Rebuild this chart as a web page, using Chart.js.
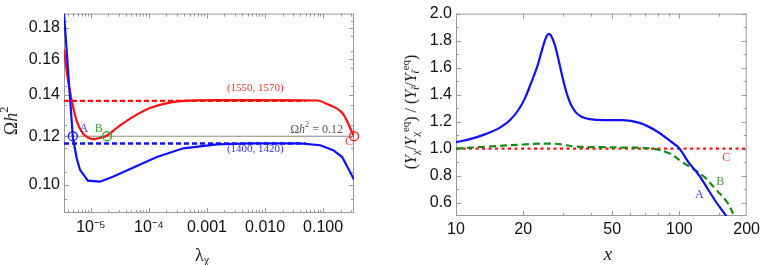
<!DOCTYPE html>
<html>
<head>
<meta charset="utf-8">
<script src="https://cdn.jsdelivr.net/npm/chart.js@4.4.0/dist/chart.umd.min.js"></script>
<style>
body { margin: 0; background: #fff; }
#wrap { position: relative; width: 764px; height: 265px; }
.box { position: absolute; top: 0; width: 382px; height: 265px; }
</style>
</head>
<body>
<div id="wrap">
  <div class="box" style="left:0"><canvas id="chartOmega"></canvas></div>
  <div class="box" style="left:382px"><canvas id="chartRatio"></canvas></div>
</div>
<script>
// ---------- left panel: relic density vs lambda ----------
const lamMin = 3.45e-6, lamMax = 0.34;
const lamRed   = [3.45e-6, 4.0e-6, 4.7e-6, 5.7e-6, 7.3e-6, 8.8e-6, 1.1e-5, 1.4e-5, 1.9e-5, 2.7e-5, 4.2e-5, 6.5e-5, 1.04e-4, 1.8e-4, 3.9e-4, 1.5e-3, 8.2e-3, 0.079, 0.117, 0.22, 0.34];
const omegaRed = [0.166, 0.149, 0.137, 0.127, 0.1213, 0.1195, 0.1187, 0.1192, 0.1203, 0.1235, 0.1272, 0.1305, 0.1334, 0.1355, 0.1370, 0.1374, 0.1374, 0.1372, 0.1354, 0.1305, 0.120];
const lamBlue   = [3.45e-6, 4.9e-6, 5.7e-6, 6.5e-6, 8.9e-6, 1.43e-5, 2.4e-5, 5.3e-5, 1.37e-4, 3.9e-4, 1.5e-3, 5.5e-3, 0.040, 0.089, 0.149, 0.213, 0.34];
const omegaBlue = [0.19, 0.1195, 0.1105, 0.1058, 0.1016, 0.1012, 0.1031, 0.1066, 0.111, 0.1147, 0.1164, 0.1168, 0.1168, 0.116, 0.1139, 0.111, 0.102];
const omegaTarget = 0.12;
const redLevel = 0.137, blueLevel = 0.1168, levelEnd = 0.05;
// benchmark points A, B, C
const markLam   = [4.9e-6, 1.9e-5, 0.34];
const markColor = ['#2020ff', '#3aa03a', '#ff2020'];
const lamTicks = [1e-5, 1e-4, 1e-3, 1e-2, 1e-1];
const lamTickLabels = ['10⁻⁵', '10⁻⁴', '0.001', '0.010', '0.100'];
const omegaTicks = [0.10, 0.12, 0.14, 0.16, 0.18];

// ---------- right panel: yield ratio vs x ----------
const xBlue = [10, 11.55, 13.47, 15.72, 17.42, 18.92, 20.32, 21.84, 23.23, 24.45, 25.48, 26.0, 26.55, 27.67, 28.84, 30.05, 31.3, 32.6, 34.3, 36.5, 39.6, 46.2, 55.7, 66.3, 78.9, 90.2, 100, 109.7, 122.8, 134, 146.4, 162, 176];
const rBlue = [1.047, 1.07, 1.105, 1.155, 1.21, 1.28, 1.37, 1.50, 1.62, 1.75, 1.835, 1.85, 1.84, 1.77, 1.65, 1.52, 1.41, 1.33, 1.27, 1.235, 1.218, 1.21, 1.21, 1.19, 1.13, 1.06, 1.0, 0.9, 0.8, 0.7, 0.6, 0.5, 0.4];
const xGreen = [10, 14, 20, 25.5, 30, 34, 45, 56, 75, 90, 103, 127, 145, 164, 176, 190];
const rGreen = [1.0, 1.015, 1.03, 1.037, 1.03, 1.015, 1.01, 1.007, 1.0, 0.965, 0.9, 0.8, 0.7, 0.6, 0.5, 0.4];
const rRed = 1.0;
const xTicks = [10, 20, 50, 100, 200];
const xMinorTicks = [30, 40, 60, 70, 80, 90, 150];
const ratioTicks = [0.6, 0.8, 1.0, 1.2, 1.4, 1.6, 1.8, 2.0];
const ratioMinor = [0.7, 0.9, 1.1, 1.3, 1.5, 1.7, 1.9];

const pts = (xs, ys) => xs.map((v, i) => ({ x: v, y: ys[i] }));
const range = (a, b, s) => { const out = []; for (let v = a; v <= b + 1e-9; v += s) out.push(+v.toFixed(4)); return out; };

// draw text made of pieces (sub/superscripts), centred at (x, y)
function drawRich(ctx, parts, x, y, size, rot) {
  ctx.save();
  ctx.translate(x, y);
  if (rot) ctx.rotate(rot);
  ctx.textBaseline = 'middle';
  ctx.textAlign = 'left';
  const fontOf = p => (p.i ? 'italic ' : '') + (p.sub || p.sup ? size * 0.68 : size) + 'px "Liberation Serif", serif';
  let w = 0;
  parts.forEach(p => { ctx.font = fontOf(p); w += ctx.measureText(p.t).width; });
  let cx = -w / 2;
  parts.forEach(p => {
    ctx.font = fontOf(p);
    ctx.fillStyle = p.c || '#222';
    const dy = p.sub ? size * 0.28 : p.sup ? -size * 0.38 : 0;
    ctx.fillText(p.t, cx, dy);
    cx += ctx.measureText(p.t).width;
  });
  ctx.restore();
}

const frameTicks = {
  id: 'frameTicks',
  beforeDatasetsDraw(chart, args, o) {
    const { ctx, chartArea: a, scales: { x, y } } = chart;
    ctx.save();
    ctx.strokeStyle = '#999';
    ctx.lineWidth = 1;
    ctx.strokeRect(a.left + 0.5, a.top + 0.5, a.width - 1, a.height - 1);
    const tick = (vals, len, horiz) => vals.forEach(v => {
      ctx.beginPath();
      if (horiz) {
        const p = Math.round(x.getPixelForValue(v)) + 0.5;
        if (p < a.left || p > a.right) return;
        ctx.moveTo(p, a.bottom); ctx.lineTo(p, a.bottom - len);
        ctx.moveTo(p, a.top); ctx.lineTo(p, a.top + len);
      } else {
        const p = Math.round(y.getPixelForValue(v)) + 0.5;
        if (p < a.top || p > a.bottom) return;
        ctx.moveTo(a.left, p); ctx.lineTo(a.left + len, p);
        ctx.moveTo(a.right, p); ctx.lineTo(a.right - len, p);
      }
      ctx.stroke();
    });
    tick(o.xMajor, 5, true); tick(o.xMinor, 3, true);
    tick(o.yMajor, 5, false); tick(o.yMinor, 3, false);
    ctx.restore();
  },
  afterDatasetsDraw(chart, args, o) {
    const { ctx, scales: { x, y } } = chart;
    (o.notes || []).forEach(n => {
      drawRich(ctx, n.parts, x.getPixelForValue(n.x), y.getPixelForValue(n.y), n.size || 11, 0);
    });
    (o.titles || []).forEach(t => drawRich(ctx, t.parts, t.x, t.y, t.size, t.rot));
  }
};
Chart.register(frameTicks);

const logMinor = (lo, hi) => {
  const out = [];
  for (let e = Math.floor(Math.log10(lo)); e <= Math.ceil(Math.log10(hi)); e++)
    for (let m = 2; m <= 9; m++) out.push(m * Math.pow(10, e));
  return out;
};

const tickFont = { family: '"Liberation Sans", Arial, sans-serif', size: 16 };

// Left chart
new Chart(document.getElementById('chartOmega'), {
  type: 'line',
  data: {
    datasets: [
      ...markLam.map((l, i) => ({
        data: [{ x: l, y: omegaTarget }], showLine: false, clip: false,
        pointStyle: 'circle', pointRadius: 4.5, borderColor: markColor[i], borderWidth: 1.3, backgroundColor: 'rgba(0,0,0,0)'
      })),
      { data: pts(lamBlue, omegaBlue), borderColor: '#1010ff', borderWidth: 2.2, pointRadius: 0, tension: 0 },
      { data: pts(lamRed, omegaRed), borderColor: '#ff1010', borderWidth: 2.2, pointRadius: 0, cubicInterpolationMode: 'monotone' },
      { data: pts([lamMin, levelEnd], [redLevel, redLevel]), borderColor: '#ff1010', borderWidth: 2.4, borderDash: [5, 3], pointRadius: 0 },
      { data: pts([lamMin, levelEnd], [blueLevel, blueLevel]), borderColor: '#1010ff', borderWidth: 2.4, borderDash: [5, 3], pointRadius: 0 },
      { data: pts([lamMin, lamMax], [omegaTarget, omegaTarget]), borderColor: '#888', borderWidth: 1, pointRadius: 0 }
    ]
  },
  options: {
    responsive: true, maintainAspectRatio: false, animation: false,
    layout: { padding: { left: 0, right: 28, top: 11, bottom: 0 } },
    scales: {
      x: {
        type: 'logarithmic', min: lamMin, max: lamMax,
        grid: { display: false, drawTicks: false }, border: { display: false },
        afterBuildTicks: s => { s.ticks = lamTicks.map(v => ({ value: v })); },
        afterFit: s => { s.height = 52; },
        ticks: { font: tickFont, color: '#111', padding: 5, maxRotation: 0, autoSkip: false, callback: (v, i) => lamTickLabels[i] }
      },
      y: {
        type: 'logarithmic', min: 0.09, max: 0.19,
        grid: { display: false, drawTicks: false }, border: { display: false },
        afterBuildTicks: s => { s.ticks = omegaTicks.map(v => ({ value: v })); },
        afterFit: s => { s.width = 64; },
        ticks: { font: tickFont, color: '#111', padding: 4, autoSkip: false, callback: v => v.toFixed(2) }
      }
    },
    plugins: {
      legend: { display: false }, tooltip: { enabled: false },
      frameTicks: {
        xMajor: lamTicks, xMinor: logMinor(lamMin, lamMax),
        yMajor: omegaTicks, yMinor: range(0.095, 0.185, 0.01),
        notes: [
          { x: 6.8e-3, y: 0.1436, parts: [{ t: '(1550, 1570)', c: '#ff3030' }] },
          { x: 6.8e-3, y: 0.1143, parts: [{ t: '(1400, 1420)', c: '#3030ff' }] },
          { x: 0.077, y: 0.1230, size: 12, parts: [{ t: 'Ω', c: '#555' }, { t: 'h', i: true, c: '#555' }, { t: '2', sup: true, c: '#555' }, { t: ' = 0.12', c: '#555' }] },
          { x: 7.6e-6, y: 0.1232, size: 12, parts: [{ t: 'A', c: '#3a3aff' }] },
          { x: 1.37e-5, y: 0.1234, size: 12, parts: [{ t: 'B', c: '#3aa03a' }] },
          { x: 0.28, y: 0.1173, size: 12, parts: [{ t: 'C', c: '#ff4040' }] }
        ],
        titles: [
          { x: 12, y: 121, size: 18, rot: -Math.PI / 2, parts: [{ t: 'Ω' }, { t: 'h', i: true }, { t: '2', sup: true }] },
          { x: 202, y: 256, size: 18, rot: 0, parts: [{ t: 'λ' }, { t: 'χ', sub: true }] }
        ]
      }
    }
  }
});

// Right chart
new Chart(document.getElementById('chartRatio'), {
  type: 'line',
  data: {
    datasets: [
      { data: pts(xBlue, rBlue), borderColor: '#1010ff', borderWidth: 2.2, pointRadius: 0, cubicInterpolationMode: 'monotone' },
      { data: pts(xGreen, rGreen), borderColor: '#148c14', borderWidth: 2.2, borderDash: [7, 4], pointRadius: 0, tension: 0.4 },
      { data: pts([10, 200], [rRed, rRed]), borderColor: '#ff1010', borderWidth: 2.2, borderDash: [3, 3.5], pointRadius: 0 }
    ]
  },
  options: {
    responsive: true, maintainAspectRatio: false, animation: false,
    layout: { padding: { left: 0, right: 17, top: 12, bottom: 0 } },
    scales: {
      x: {
        type: 'logarithmic', min: 10, max: 200,
        grid: { display: false, drawTicks: false }, border: { display: false },
        afterBuildTicks: s => { s.ticks = xTicks.map(v => ({ value: v })); },
        afterFit: s => { s.height = 49; },
        ticks: { font: tickFont, color: '#111', padding: 4, maxRotation: 0, autoSkip: false, callback: (v, i) => String(xTicks[i]) }
      },
      y: {
        type: 'linear', min: 0.5, max: 2.0,
        grid: { display: false, drawTicks: false }, border: { display: false },
        afterBuildTicks: s => { s.ticks = ratioTicks.map(v => ({ value: v })); },
        afterFit: s => { s.width = 74; },
        ticks: { font: tickFont, color: '#111', padding: 4, autoSkip: false, callback: v => v.toFixed(1) }
      }
    },
    plugins: {
      legend: { display: false }, tooltip: { enabled: false },
      frameTicks: {
        xMajor: xTicks, xMinor: xMinorTicks,
        yMajor: ratioTicks, yMinor: ratioMinor,
        notes: [
          { x: 122.8, y: 0.655, size: 12, parts: [{ t: 'A', c: '#3a3aff' }] },
          { x: 152.4, y: 0.75, size: 12, parts: [{ t: 'B', c: '#3aa03a' }] },
          { x: 162, y: 0.934, size: 12, parts: [{ t: 'C', c: '#ff4040' }] }
        ],
        titles: [
          { x: 30, y: 112, size: 16, rot: -Math.PI / 2, parts: [
            { t: '(' }, { t: 'Y', i: true }, { t: 'χ', sub: true }, { t: '/' }, { t: 'Y', i: true }, { t: 'χ', sub: true }, { t: 'eq', sup: true }, { t: ') / (' },
            { t: 'Y', i: true }, { t: 't̃', sub: true, i: true }, { t: '/' }, { t: 'Y', i: true }, { t: 't̃', sub: true, i: true }, { t: 'eq', sup: true }, { t: ')' }
          ] },
          { x: 226, y: 255, size: 19, rot: 0, parts: [{ t: 'x', i: true }] }
        ]
      }
    }
  }
});
</script>
</body>
</html>
